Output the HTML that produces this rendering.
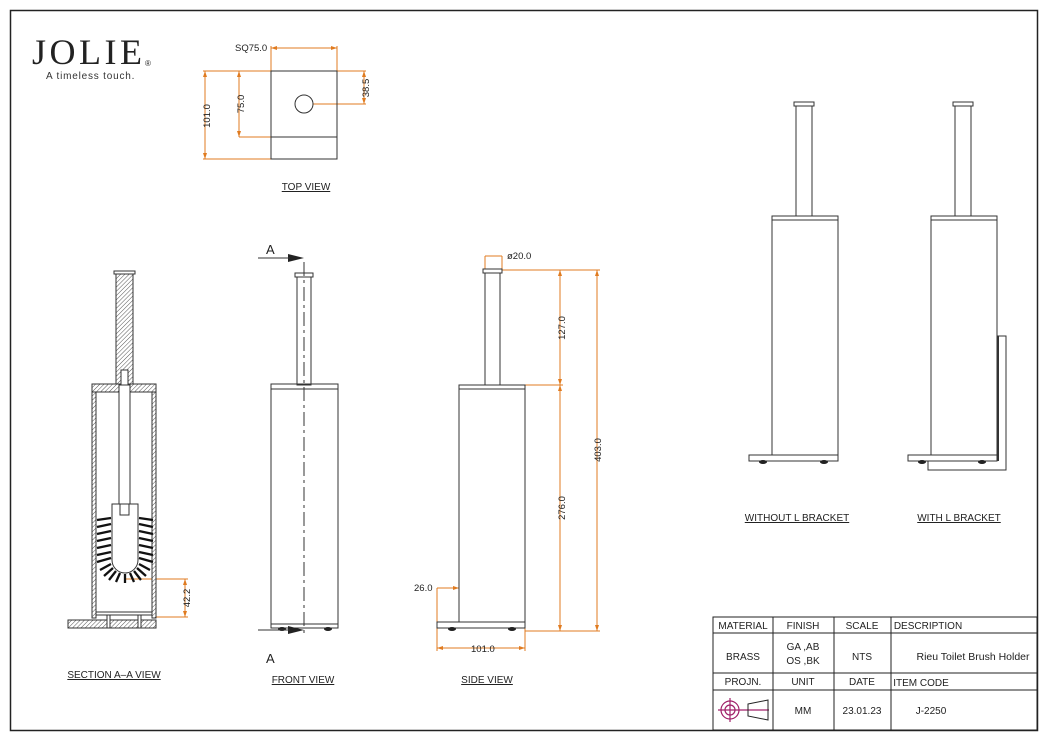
<!DOCTYPE html>
<html><head><meta charset="utf-8"><style>
html,body{margin:0;padding:0;background:#fff;}
svg{display:block;font-family:"Liberation Sans",sans-serif;}
</style></head><body>
<svg width="1048" height="740" viewBox="0 0 1048 740" xmlns="http://www.w3.org/2000/svg">
<defs>
<pattern id="h" width="3" height="3" patternUnits="userSpaceOnUse" patternTransform="rotate(45)">
<rect width="3" height="3" fill="#fff"/><line x1="0" y1="0" x2="0" y2="3" stroke="#555" stroke-width="1"/></pattern>
<marker id="ar" markerWidth="6" markerHeight="6" refX="6" refY="3" orient="auto-start-reverse" markerUnits="userSpaceOnUse"><path d="M0,1 L6,3 L0,5Z" fill="#e07b20"/></marker>
</defs>
<rect x="10.5" y="10.5" width="1027" height="720" fill="none" stroke="#222" stroke-width="1.5"/>

<!-- logo -->
<text x="32" y="64" font-family="Liberation Serif,serif" font-size="36" fill="#222" letter-spacing="3.5">JOLIE</text>
<text x="145" y="66" font-size="8" fill="#222">®</text>
<text x="46" y="79" font-size="10" fill="#333" letter-spacing="0.8">A timeless touch.</text>

<g fill="none" stroke="#e07b20" stroke-width="1">
<line x1="271" y1="48" x2="337" y2="48" marker-start="url(#ar)" marker-end="url(#ar)"/>
<line x1="271" y1="46" x2="271" y2="71"/><line x1="337" y1="46" x2="337" y2="71"/>
<line x1="205" y1="71" x2="205" y2="159" marker-start="url(#ar)" marker-end="url(#ar)"/>
<line x1="203" y1="71" x2="271" y2="71"/><line x1="203" y1="159" x2="271" y2="159"/>
<line x1="239" y1="71" x2="239" y2="137" marker-start="url(#ar)" marker-end="url(#ar)"/>
<line x1="239" y1="137" x2="271" y2="137"/>
<line x1="364" y1="71" x2="364" y2="104" marker-start="url(#ar)" marker-end="url(#ar)"/>
<line x1="337" y1="71" x2="366" y2="71"/><line x1="313" y1="104" x2="366" y2="104"/>
<line x1="485" y1="256" x2="502" y2="256"/>
<line x1="485" y1="256" x2="485" y2="269"/><line x1="502" y1="256" x2="502" y2="269"/>
<line x1="502" y1="270" x2="600" y2="270"/>
<line x1="525" y1="385" x2="563" y2="385"/>
<line x1="525" y1="631" x2="600" y2="631"/>
<line x1="560" y1="270" x2="560" y2="385" marker-start="url(#ar)" marker-end="url(#ar)"/>
<line x1="560" y1="385" x2="560" y2="631" marker-start="url(#ar)" marker-end="url(#ar)"/>
<line x1="597" y1="270" x2="597" y2="631" marker-start="url(#ar)" marker-end="url(#ar)"/>
<line x1="437" y1="588" x2="459" y2="588" marker-end="url(#ar)"/>
<line x1="437" y1="588" x2="437" y2="651"/><line x1="525" y1="628" x2="525" y2="651"/>
<line x1="437" y1="648" x2="525" y2="648" marker-start="url(#ar)" marker-end="url(#ar)"/>
<line x1="125" y1="579" x2="188" y2="579"/><line x1="152" y1="617" x2="188" y2="617"/>
<line x1="185" y1="579" x2="185" y2="617" marker-start="url(#ar)" marker-end="url(#ar)"/>
</g>

<g font-size="9.5" fill="#222">
<text x="235" y="51">SQ75.0</text>
<text transform="translate(210,116) rotate(-90)" text-anchor="middle">101.0</text>
<text transform="translate(244,104) rotate(-90)" text-anchor="middle">75.0</text>
<text transform="translate(369,88) rotate(-90)" text-anchor="middle">38.5</text>
<text x="507" y="259">ø20.0</text>
<text transform="translate(565,328) rotate(-90)" text-anchor="middle">127.0</text>
<text transform="translate(565,508) rotate(-90)" text-anchor="middle">276.0</text>
<text transform="translate(601,450) rotate(-90)" text-anchor="middle">403.0</text>
<text x="414" y="591">26.0</text>
<text x="471" y="652">101.0</text>
<text transform="translate(190,598) rotate(-90)" text-anchor="middle">42.2</text>
</g>

<g fill="none" stroke="#333" stroke-width="1">
<rect x="271" y="71" width="66" height="88"/>
<line x1="271" y1="137" x2="337" y2="137"/>
<circle cx="304" cy="104" r="9"/>
<rect x="295" y="273" width="18" height="4"/>
<rect x="297" y="277" width="14" height="108"/>
<rect x="271" y="384" width="67" height="244"/>
<line x1="271" y1="389" x2="338" y2="389"/>
<line x1="271" y1="624" x2="338" y2="624"/>
<line x1="304" y1="262" x2="304" y2="636" stroke-dasharray="14,4,3,4"/>
<rect x="483" y="269" width="19" height="4"/>
<rect x="485" y="273" width="15" height="112"/>
<rect x="459" y="385" width="66" height="237"/>
<line x1="459" y1="389" x2="525" y2="389"/>
<rect x="437" y="622" width="88" height="6"/>
<rect x="794" y="102" width="20" height="4"/>
<rect x="796" y="106" width="16" height="110"/>
<rect x="772" y="216" width="66" height="239"/>
<line x1="772" y1="220" x2="838" y2="220"/>
<rect x="749" y="455" width="89" height="6"/>
<rect x="953" y="102" width="20" height="4"/>
<rect x="955" y="106" width="16" height="110"/>
<rect x="931" y="216" width="66" height="239"/>
<line x1="931" y1="220" x2="997" y2="220"/>
<rect x="908" y="455" width="89" height="6"/>
<path d="M997,336 H1006 V470 H928 V461"/>
<line x1="998" y1="336" x2="998" y2="461" stroke-width="2"/>
</g>
<g fill="#222">
<ellipse cx="282" cy="629" rx="4" ry="2"/><ellipse cx="328" cy="629" rx="4" ry="2"/>
<ellipse cx="452" cy="629" rx="4" ry="2"/><ellipse cx="512" cy="629" rx="4" ry="2"/>
<ellipse cx="763" cy="462" rx="4" ry="2"/><ellipse cx="824" cy="462" rx="4" ry="2"/>
<ellipse cx="922" cy="462" rx="4" ry="2"/><ellipse cx="982" cy="462" rx="4" ry="2"/>
<path d="M288,254 L304,258 L288,262Z"/><path d="M288,626 L304,630 L288,634Z"/>
</g>
<g stroke="#333"><line x1="258" y1="258" x2="290" y2="258"/><line x1="258" y1="630" x2="290" y2="630"/></g>
<text x="266" y="254" font-size="13" fill="#222">A</text>
<text x="266" y="663" font-size="13" fill="#222">A</text>

<g stroke="#333" stroke-width="1">
<rect x="116" y="272" width="17" height="112" fill="url(#h)"/>
<rect x="114" y="271" width="21" height="3" fill="#fff"/>
<rect x="92" y="384" width="64" height="8" fill="url(#h)"/>
<rect x="92" y="392" width="4" height="226" fill="url(#h)"/>
<rect x="152" y="392" width="4" height="226" fill="url(#h)"/>
<rect x="68" y="620" width="88" height="8" fill="url(#h)"/>
<rect x="96" y="612" width="56" height="3" fill="#fff"/>
<rect x="121" y="370" width="7" height="15" fill="#fff"/>
<rect x="119" y="385" width="11" height="119" fill="#fff"/>
<rect x="107" y="615" width="3" height="13" fill="#fff"/><rect x="138" y="615" width="3" height="13" fill="#fff"/>
<path d="M112,504 H138 V560 A13,13 0 0 1 112,560 Z" fill="#fff"/>
<rect x="120" y="504" width="9" height="11" fill="#fff"/>
</g>
<g stroke="#111" stroke-width="2.3">
<line x1="97" y1="520" x2="111" y2="518"/><line x1="97" y1="527" x2="111" y2="524"/>
<line x1="97" y1="534" x2="111" y2="531"/><line x1="97" y1="541" x2="111" y2="538"/>
<line x1="97" y1="548" x2="111" y2="545"/><line x1="97" y1="555" x2="111" y2="552"/>
<line x1="97" y1="562" x2="111" y2="558"/>
<line x1="153" y1="520" x2="139" y2="518"/><line x1="153" y1="527" x2="139" y2="524"/>
<line x1="153" y1="534" x2="139" y2="531"/><line x1="153" y1="541" x2="139" y2="538"/>
<line x1="153" y1="548" x2="139" y2="545"/><line x1="153" y1="555" x2="139" y2="552"/>
<line x1="153" y1="562" x2="139" y2="558"/>
<line x1="111" y1="564" x2="100" y2="570"/><line x1="113" y1="568" x2="104" y2="576"/>
<line x1="116" y1="571" x2="109" y2="580"/><line x1="120" y1="573" x2="116" y2="582"/>
<line x1="125" y1="574" x2="125" y2="583"/><line x1="130" y1="573" x2="134" y2="582"/>
<line x1="134" y1="571" x2="141" y2="580"/><line x1="137" y1="568" x2="146" y2="576"/>
<line x1="139" y1="564" x2="150" y2="570"/>
</g>

<g font-size="10" fill="#222" text-anchor="middle" text-decoration="underline">
<text x="306" y="190">TOP VIEW</text>
<text x="114" y="678">SECTION A–A VIEW</text>
<text x="303" y="683">FRONT VIEW</text>
<text x="487" y="683">SIDE VIEW</text>
<text x="797" y="521">WITHOUT L BRACKET</text>
<text x="959" y="521">WITH L BRACKET</text>
</g>

<g fill="none" stroke="#222" stroke-width="1">
<rect x="713" y="617" width="324" height="113"/>
<line x1="713" y1="633" x2="1037" y2="633"/>
<line x1="713" y1="673" x2="1037" y2="673"/>
<line x1="713" y1="690" x2="1037" y2="690"/>
<line x1="773" y1="617" x2="773" y2="730"/>
<line x1="834" y1="617" x2="834" y2="730"/>
<line x1="891" y1="617" x2="891" y2="730"/>
</g>
<g font-size="10" fill="#222" text-anchor="middle">
<text x="743" y="629">MATERIAL</text><text x="803" y="629">FINISH</text><text x="862" y="629">SCALE</text>
<text x="928" y="629">DESCRIPTION</text>
<text x="743" y="660">BRASS</text><text x="803" y="650">GA ,AB</text><text x="803" y="664">OS ,BK</text>
<text x="862" y="660">NTS</text><text x="973" y="660" font-size="10.5">Rieu Toilet Brush Holder</text>
<text x="743" y="685">PROJN.</text><text x="803" y="685">UNIT</text><text x="862" y="685">DATE</text>
<text x="921" y="686">ITEM CODE</text>
<text x="803" y="714">MM</text><text x="862" y="714">23.01.23</text><text x="931" y="714">J-2250</text>
</g>
<g fill="none" stroke="#a0206a" stroke-width="1.2">
<circle cx="730" cy="710" r="9"/><circle cx="730" cy="710" r="5"/>
<line x1="718" y1="710" x2="769" y2="710"/><line x1="730" y1="698" x2="730" y2="722"/>
</g>
<path d="M748,704 L768,700 V720 L748,716Z" fill="none" stroke="#222"/>
</svg>
</body></html>
